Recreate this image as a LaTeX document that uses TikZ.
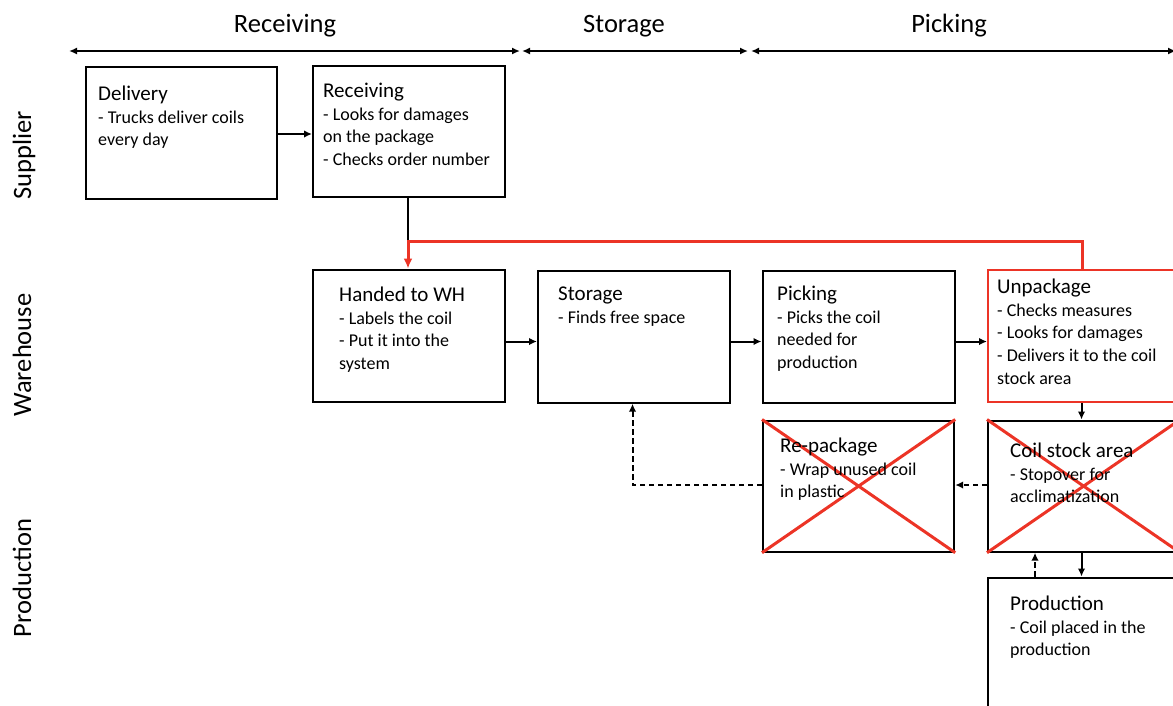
\documentclass[tikz,border=0pt]{standalone}
\usepackage{fontspec}
\setmainfont{Carlito}
\usetikzlibrary{arrows.meta}

\begin{document}
\begin{tikzpicture}[x=1pt,y=-1pt,
  box/.style={draw=black, line width=2.2pt, anchor=north west, inner sep=0pt},
  redbox/.style={box, draw={rgb,255:red,236;green,52;blue,38}},
  txt/.style={anchor=north west, inner sep=0pt, align=left,
    font=\fontsize{18}{22.6}\selectfont},
  head/.style={anchor=base, inner sep=0pt, font=\fontsize{26.5}{30}\selectfont},
  lane/.style={anchor=base, inner sep=0pt, rotate=90, font=\fontsize{26.5}{30}\selectfont},
  span/.style={line width=2pt, {Latex[length=8pt,width=7pt]}-{Latex[length=8pt,width=7pt]}},
  flow/.style={line width=2pt, -{Latex[length=8pt,width=7.5pt]}},
  dflow/.style={flow, dash pattern=on 5.5pt off 3.5pt},
  redline/.style={draw={rgb,255:red,236;green,52;blue,38}, line width=3pt},
  cross/.style={draw={rgb,255:red,236;green,52;blue,38}, line width=3pt}
]
\useasboundingbox (0,0) rectangle (1173,705);
\clip (0,0) rectangle (1173,705);

% phase headers
\node[head] (hrec) at (285,32) {Receiving};
\node[head] (hsto) at (624,32) {Storage};
\node[head] (hpic) at (949,32) {Picking};
\coordinate (p0) at (69,51);
\coordinate (p1) at (520,51);
\coordinate (p2) at (522,51);
\coordinate (p3) at (748,51);
\coordinate (p4) at (751,51);
\coordinate (p5) at (1176,51);
\draw[span] (p0) -- (p1);
\draw[span] (p2) -- (p3);
\draw[span] (p4) -- (p5);

% swim lanes
\node[lane] (lsup) at (31,155) {Supplier};
\node[lane] (lwh) at (31,355) {Warehouse};
\node[lane] (lprod) at (31,578) {Production};

% process boxes
\node[box, minimum width=191pt, minimum height=132pt] (deliv) at (85,66) {};
\node[box, minimum width=192pt, minimum height=131pt] (recv) at (312,65) {};
\node[box, minimum width=192pt, minimum height=132pt] (hand) at (312,268.5) {};
\node[box, minimum width=192pt, minimum height=132pt] (stor) at (537,269.5) {};
\node[box, minimum width=192pt, minimum height=132pt] (pick) at (761.5,269.5) {};
\node[redbox, minimum width=192pt, minimum height=132pt] (unpk) at (987,269) {};
\node[box, minimum width=191pt, minimum height=131pt] (repk) at (762,419.5) {};
\node[box, minimum width=191pt, minimum height=131pt] (coil) at (987,419.5) {};
\node[box, minimum width=191pt, minimum height=160pt] (prod) at (987,576.5) {};

% crossed-out steps
\draw[cross] (repk.north west) -- (repk.south east);
\draw[cross] (repk.south west) -- (repk.north east);
\draw[cross] (coil.north west) -- (coil.south east);
\draw[cross] (coil.south west) -- (coil.north east);

% box texts
\node[txt] (deliv-t) at (98,86) {{\fontsize{21}{22.6}\selectfont Delivery}\\- Trucks deliver coils\\every day};
\node[txt] (recv-t) at (323,83) {{\fontsize{21}{22.6}\selectfont Receiving}\\- Looks for damages\\on the package\\- Checks order number};
\node[txt] (hand-t) at (339,287) {{\fontsize{21}{22.6}\selectfont Handed to WH}\\- Labels the coil\\- Put it into the\\system};
\node[txt] (stor-t) at (558,287) {{\fontsize{21}{22.6}\selectfont Storage}\\- Finds free space};
\node[txt] (pick-t) at (777,286) {{\fontsize{21}{22.6}\selectfont Picking}\\- Picks the coil\\needed for\\production};
\node[txt] (unpk-t) at (997,279) {{\fontsize{21}{22.6}\selectfont Unpackage}\\- Checks measures\\- Looks for damages\\- Delivers it to the coil\\stock area};
\node[txt] (repk-t) at (780,438) {{\fontsize{21}{22.6}\selectfont Re-package}\\- Wrap unused coil\\in plastic};
\node[txt] (coil-t) at (1010,443) {{\fontsize{21}{22.6}\selectfont Coil stock area}\\- Stopover for\\acclimatization};
\node[txt] (prod-t) at (1010,596) {{\fontsize{21}{22.6}\selectfont Production}\\- Coil placed in the\\production};

% connectors
\coordinate (join) at (408,241.5);
\coordinate (upturn) at (1082.5,241.5);
\draw[flow] (deliv.east |- 0,134) -- (recv.west |- 0,134);
\draw[line width=2pt] (recv.south -| join) -- (join);
\draw[redline, -{Latex[length=10pt,width=9pt]}] (unpk.north -| upturn) -- (upturn) -- (join) -- (hand.north -| join);
\draw[flow] (hand.east |- 0,341.5) -- (stor.west |- 0,341.5);
\draw[flow] (stor.east |- 0,341.5) -- (pick.west |- 0,341.5);
\draw[flow] (pick.east |- 0,341.5) -- (unpk.west |- 0,341.5);
\draw[flow] (unpk.south -| 1081.5,0) -- (coil.north -| 1081.5,0);
\draw[dflow] (coil.west |- 0,485) -- (repk.east |- 0,485);
\draw[dflow] (repk.west |- 0,485) -| (stor.south -| 632.5,0);
\draw[flow] (coil.south -| 1081.5,0) -- (prod.north -| 1081.5,0);
\draw[dflow] (prod.north -| 1035,0) -- (coil.south -| 1035,0);
\end{tikzpicture}
\end{document}
